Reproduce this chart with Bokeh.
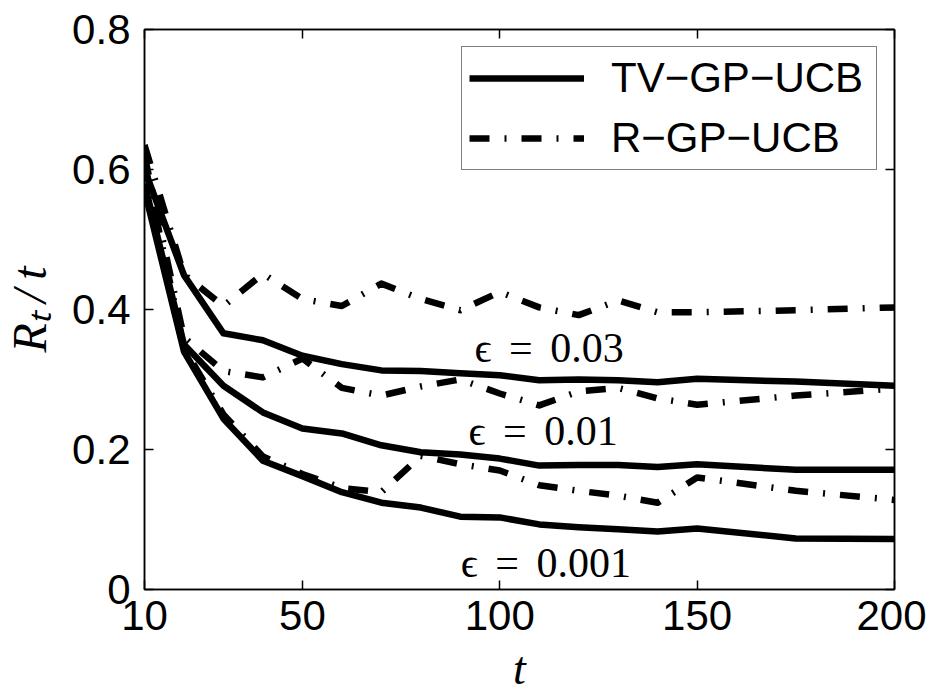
from bokeh.plotting import figure
from bokeh.models import Range1d, FixedTicker, LinearAxis, Legend, LegendItem, Label
from bokeh.embed import file_html
from bokeh.resources import INLINE

# ---------------- data ----------------
t = [10, 20, 30, 40, 50, 60, 70, 80, 90, 100, 110, 120, 130, 140, 150, 175, 200]

tv_eps_003 = [0.600, 0.449, 0.366, 0.356, 0.334, 0.322, 0.313, 0.312, 0.309, 0.306,
              0.299, 0.300, 0.299, 0.296, 0.301, 0.297, 0.291]
tv_eps_001 = [0.580, 0.350, 0.291, 0.253, 0.230, 0.223, 0.206, 0.196, 0.193, 0.187,
              0.177, 0.178, 0.178, 0.175, 0.179, 0.171, 0.171]
tv_eps_0001 = [0.570, 0.340, 0.244, 0.184, 0.162, 0.139, 0.124, 0.117, 0.104, 0.103,
               0.093, 0.089, 0.086, 0.083, 0.087, 0.073, 0.072]

r_eps_003 = [0.635, 0.450, 0.405, 0.451, 0.415, 0.405, 0.437, 0.415, 0.399, 0.425,
             0.403, 0.392, 0.413, 0.396, 0.396, 0.399, 0.403]
r_eps_001 = [0.620, 0.360, 0.312, 0.303, 0.330, 0.288, 0.277, 0.290, 0.300, 0.280,
             0.263, 0.283, 0.288, 0.273, 0.264, 0.277, 0.287]
r_eps_0001 = [0.610, 0.345, 0.250, 0.190, 0.165, 0.145, 0.139, 0.191, 0.179, 0.170,
              0.149, 0.141, 0.134, 0.124, 0.160, 0.141, 0.128]

x_ticks = [10, 50, 100, 150, 200]
y_ticks = [0, 0.2, 0.4, 0.6, 0.8]
y_tick_labels = ["0", "0.2", "0.4", "0.6", "0.8"]
series_names = ["TV\u2212GP\u2212UCB", "R\u2212GP\u2212UCB"]
eps_texts = ["\u03f5 = 0.03", "\u03f5 = 0.01", "\u03f5 = 0.001"]
x_label = "t"
y_label = "R\u209c\u2009/\u2009t"

# ---------------- figure ----------------
p = figure(width=926, height=699,
           x_range=Range1d(10, 200), y_range=Range1d(0, 0.8),
           output_backend="svg", toolbar_location=None,
           min_border_left=144, min_border_right=32,
           min_border_top=29, min_border_bottom=110)
p.background_fill_color = "white"
p.border_fill_color = "white"
p.xgrid.visible = False
p.ygrid.visible = False
p.outline_line_color = "black"
p.outline_line_width = 1.5

SANS = "Liberation Sans"
SERIF = "Liberation Serif"

for ax in (p.xaxis[0], p.yaxis[0]):
    ax.major_tick_in = 9
    ax.major_tick_out = 0
    ax.minor_tick_line_color = None
    ax.axis_line_width = 1.5
    ax.major_tick_line_width = 1.5
    ax.major_label_text_font = SANS
    ax.major_label_text_font_size = "42px"
    ax.major_label_text_color = "black"
    ax.axis_label_text_font = SERIF
    ax.axis_label_text_font_style = "italic"
    ax.axis_label_text_color = "black"

p.xaxis.ticker = FixedTicker(ticks=x_ticks)
p.yaxis.ticker = FixedTicker(ticks=y_ticks)
p.yaxis.major_label_overrides = dict(zip(y_ticks, y_tick_labels))
p.xaxis.major_label_standoff = 11
p.yaxis.major_label_standoff = 14
p.xaxis.axis_label = x_label
p.xaxis.axis_label_text_font_size = "46px"
p.xaxis.axis_label_standoff = 10
p.yaxis.axis_label = y_label
p.yaxis.axis_label_text_font_size = "48px"
p.yaxis.axis_label_standoff = 13

# mirrored ticks (box on)
top = LinearAxis(ticker=FixedTicker(ticks=x_ticks))
right = LinearAxis(ticker=FixedTicker(ticks=y_ticks))
for ax in (top, right):
    ax.major_tick_in = 9
    ax.major_tick_out = 0
    ax.minor_tick_line_color = None
    ax.axis_line_width = 1.5
    ax.major_tick_line_width = 1.5
    ax.major_label_text_font_size = "1px"
    ax.major_label_text_color = None
    ax.major_label_standoff = 0
p.add_layout(top, "above")
p.add_layout(right, "right")

# ---------------- lines ----------------
LW = 6.5
DASHDOT = "20 15 2 15"
r_tv = None
r_r = None
for vals in (tv_eps_003, tv_eps_001, tv_eps_0001):
    r = p.line(t, vals, line_color="black", line_width=LW, line_join="round")
    r_tv = r_tv or r
for vals in (r_eps_003, r_eps_001, r_eps_0001):
    r = p.line(t, vals, line_color="black", line_width=LW, line_dash=DASHDOT,
               line_cap="butt", line_join="round")
    r_r = r_r or r

# ---------------- epsilon labels ----------------
for x, y, txt in zip([93.6, 92.1, 90.1], [0.345, 0.227, 0.038], eps_texts):
    p.add_layout(Label(x=x, y=y, text=txt.replace(" ", "\u2004\u200a"),
                       text_font=SERIF, text_font_size="42px",
                       text_color="black", text_align="left",
                       text_baseline="alphabetic"))

# ---------------- legend ----------------
legend = Legend(items=[LegendItem(label=series_names[0], renderers=[r_tv]),
                       LegendItem(label=series_names[1], renderers=[r_r])],
                location="top_right", margin=17, padding=7,
                glyph_width=115, glyph_height=46, label_height=46,
                label_width=258, label_standoff=27, spacing=12,
                label_text_font=SANS, label_text_font_size="42px",
                label_text_color="black",
                border_line_color="black", border_line_width=1.5,
                background_fill_color="white", background_fill_alpha=1.0)
p.add_layout(legend)

open("out.html", "w").write(file_html(p, INLINE))
